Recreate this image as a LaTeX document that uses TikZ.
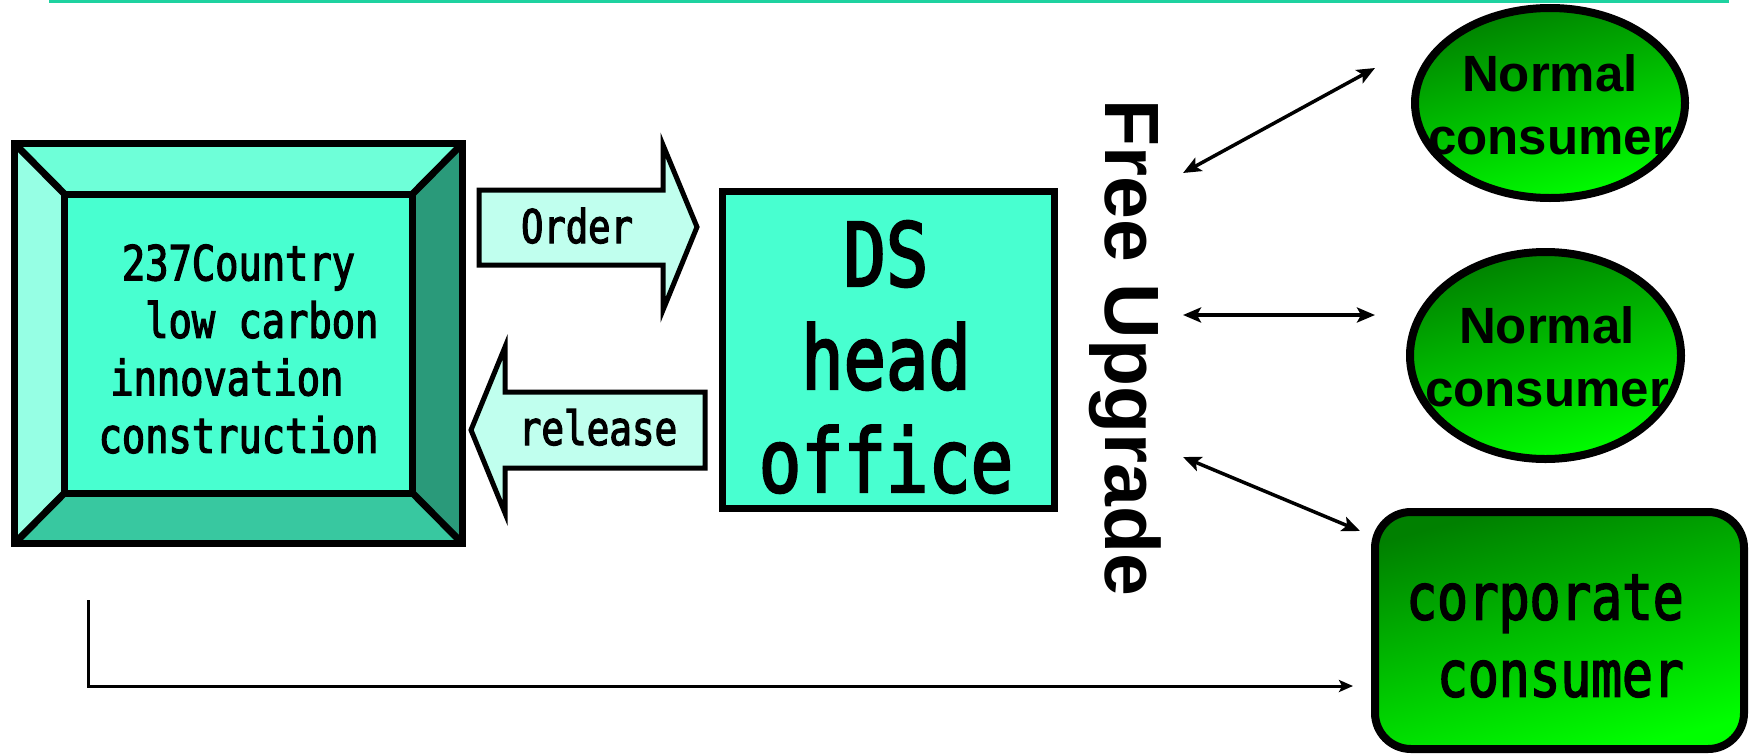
\documentclass[tikz,border=0pt]{standalone}
\usepackage{fontspec}
\setmainfont{Liberation Sans}
\newfontfamily\gulimfont[FakeStretch=0.8, FakeBold=2.5]{DejaVu Sans Mono}
\usetikzlibrary{arrows.meta, shapes.geometric}
\definecolor{topline}{RGB}{30,210,160}
\definecolor{bevtop}{RGB}{110,255,216}
\definecolor{bevleft}{RGB}{150,255,228}
\definecolor{bevright}{RGB}{42,154,122}
\definecolor{bevbottom}{RGB}{56,200,160}
\definecolor{aqua}{RGB}{72,255,208}
\definecolor{paleaqua}{RGB}{192,255,238}
\definecolor{darkgreen}{RGB}{0,128,0}
\definecolor{lightgreen}{RGB}{0,255,0}

\begin{document}
\begin{tikzpicture}[x=0.5pt, y=-0.5pt,
	monotext/.style 2 args={font=\gulimfont\fontsize{#1}{#2}\selectfont, align=center},
	aquabox/.style={draw, fill=aqua, line width=3.5pt},
	blockarrow/.style={draw, fill=paleaqua, line width=2.5pt, line join=miter},
	greenfill/.style={draw, line width=4pt, top color=darkgreen, bottom color=lightgreen, shading angle=15},
	consumer/.style={ellipse, greenfill},
	consumertext/.style={font=\bfseries\fontsize{25.5}{31.5}\selectfont, align=center},
	link/.style={{Stealth[length=9pt,width=7.5pt,inset=2pt]}-{Stealth[length=9pt,width=7.5pt,inset=2pt]}, line width=1.75pt},
	feedline/.style={-{Stealth[length=7pt,width=6pt,inset=1.5pt]}, line width=1.5pt}]
	\useasboundingbox (0,0) rectangle (1754,755);
	\draw[topline, line width=1.5pt] (49,1.5) -- (1729,1.5);

	\coordinate (o1) at (14.5,143.5);
	\coordinate (o2) at (462.5,143.5);
	\coordinate (o3) at (462.5,543.5);
	\coordinate (o4) at (14.5,543.5);
	\coordinate (i1) at (64.5,194);
	\coordinate (i2) at (412.5,194);
	\coordinate (i3) at (412.5,493);
	\coordinate (i4) at (64.5,493);
	\fill[bevtop] (o1) -- (o2) -- (i2) -- (i1) -- cycle;
	\fill[bevright] (o2) -- (o3) -- (i3) -- (i2) -- cycle;
	\fill[bevbottom] (o3) -- (o4) -- (i4) -- (i3) -- cycle;
	\fill[bevleft] (o4) -- (o1) -- (i1) -- (i4) -- cycle;
	\draw[line width=3.5pt] (o1) -- (i1) (o2) -- (i2) (o3) -- (i3) (o4) -- (i4);
	\draw[line width=3.5pt] (o1) rectangle (o3);
	\node[aquabox, minimum width=174pt, minimum height=149.5pt] (lab) at (238.5,343.5) {};
	\node[monotext={24.2}{28.75}] (labtext) at (238.5,349) {237Country\\\phantom{ll}low carbon\\innovation\phantom{i}\\construction};

	\draw[blockarrow] (479,190) -- (663,190) -- (663,145) -- (697,227) -- (663,310) -- (663,265) -- (479,265) -- cycle;
	\node[monotext={23.2}{27}, anchor=base] (order) at (577,243) {Order};
	\draw[blockarrow] (705,392) -- (505,392) -- (505,347) -- (471,430) -- (505,513) -- (505,468) -- (705,468) -- cycle;
	\node[monotext={23.5}{27}, anchor=base] (release) at (598,445) {release};

	\node[aquabox, minimum width=166pt, minimum height=158.5pt] (hq) at (888.5,350) {};
	\node[monotext={44}{51.5}] (hqtext) at (886,357) {DS\\head\\office};

	\node[rotate=-90, font=\bfseries\fontsize{38.5}{46}\selectfont] (upgrade) at (1125,348) {Free Upgrade};

	\node[consumer, minimum width=135pt, minimum height=95pt] (normal1) at (1550,103) {};
	\node[consumertext] (normal1text) at (1550,105) {Normal\\consumer};
	\node[consumer, minimum width=135.5pt, minimum height=103.5pt] (normal2) at (1545.5,355.5) {};
	\node[consumertext] (normal2text) at (1547,357) {Normal\\consumer};
	\node[greenfill, rounded corners=18pt, minimum width=184.5pt, minimum height=118.5pt] (corporate) at (1559.5,630.5) {};
	\node[monotext={32}{38.5}] (corporatetext) at (1545,636) {corporate\\\phantom{c}consumer};

	\coordinate (up1) at (1183,173);
	\coordinate (to1) at (1375,68);
	\coordinate (up2) at (1183,315);
	\coordinate (to2) at (1375,315);
	\coordinate (up3) at (1183,457);
	\coordinate (to3) at (1360,531);
	\draw[link] (up1) -- (to1);
	\draw[link] (up2) -- (to2);
	\draw[link] (up3) -- (to3);

	\coordinate (feed) at (88,600);
	\coordinate (feedend) at (1353,686);
	\draw[feedline] (feed) |- (feedend);
\end{tikzpicture}
\end{document}
